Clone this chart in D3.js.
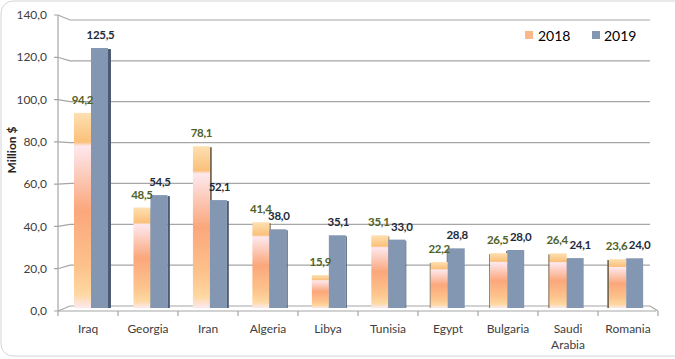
<!DOCTYPE html>
<html><head><meta charset="utf-8">
<script src="https://cdn.jsdelivr.net/npm/d3@7/dist/d3.min.js"></script>
<style>html,body{margin:0;padding:0;background:#fff;}svg{display:block;font-family:Lato,"Open Sans",sans-serif;}</style>
</head><body><svg id="c" width="675" height="359"></svg>
<script>
const categories = ["Iraq","Georgia","Iran","Algeria","Libya","Tunisia","Egypt","Bulgaria","Saudi Arabia","Romania"];
const values2018 = [94.2,48.5,78.1,41.4,15.9,35.1,22.2,26.5,26.4,23.6];
const values2019 = [125.5,54.5,52.1,38.0,35.1,33.0,28.8,28.0,24.1,24.0];
const seriesNames = ["2018","2019"];
const yTicks = [0,20,40,60,80,100,120,140];

const svg = d3.select("#c");
const fmt = v => d3.format(".1f")(v).replace(".", ",");

// border
svg.append("rect").attr("x",1).attr("y",1).attr("width",690).attr("height",355).attr("rx",12)
  .attr("fill","#fff").attr("stroke","#d4d4d4");

const defs = svg.append("defs");
const g18 = defs.append("linearGradient").attr("id","g18").attr("x1",0).attr("y1",0).attr("x2",0).attr("y2",1);
[[0,"#fde0b2"],[0.15,"#fbc07a"],[0.17,"#fde8ee"],[0.5,"#fba77b"],[0.8,"#fdc48d"],[0.93,"#fed8a2"],[1,"#fde9ef"]]
  .forEach(([o,c])=>g18.append("stop").attr("offset",o).attr("stop-color",c));

const x = d3.scaleBand().domain(categories).range([58,658]);
const yFront = d3.scaleLinear().domain([0,140]).range([311,15]);
const yBack = d3.scaleLinear().domain([0,140]).range([306,20]);
const yBar = d3.scaleLinear().domain([0,140]).range([308,18]);

const grid = svg.append("g").attr("stroke","#a6a6a6").attr("fill","none").attr("stroke-width",1.2);
yTicks.forEach(t=>{
  if(t===0) return;
  grid.append("path").attr("d",`M54,${yFront(t)}L58,${yFront(t)}L70,${yBack(t)}L650,${yBack(t)}`);
});
// floor
grid.append("path").attr("d",`M54,${yFront(0)}L656,${yFront(0)}`);
grid.append("path").attr("d",`M58,${yFront(0)}L70,${yBack(0)}L650,${yBack(0)}L658,${yFront(0)}`);
// vertical axis
grid.append("path").attr("d",`M58,${yFront(140)}L58,${yFront(0)}`);
// category ticks
categories.forEach((c,i)=>{
  grid.append("path").attr("d",`M${x(c)},${yFront(0)}L${x(c)},${yFront(0)+5}`);
});
grid.append("path").attr("d",`M658,${yFront(0)}L658,${yFront(0)+5}`);

// y tick labels
svg.append("g").selectAll("text").data(yTicks).join("text")
  .attr("x",47).attr("y",d=>yFront(d)).attr("dy","0.35em").attr("text-anchor","end")
  .attr("font-size",12).attr("fill","#404040").text(d=>fmt(d));

// axis title
svg.append("text").attr("transform","translate(16,150) rotate(-90)").attr("text-anchor","middle")
  .attr("font-size",12).attr("font-weight","bold").attr("fill","#262626").text("Million $");

// x labels
const xl = svg.append("g");
categories.forEach(c=>{
  const words = c.split(" ");
  const t = xl.append("text").attr("x",x(c)+x.bandwidth()/2).attr("y",333).attr("text-anchor","middle")
    .attr("font-size",12).attr("fill","#404040");
  words.forEach((w,i)=>t.append("tspan").attr("x",x(c)+x.bandwidth()/2).attr("dy",i?16:0).text(w));
});

// bars
const bw = 17, vp = 420;
const bars = svg.append("g");
const labels = svg.append("g").attr("font-size",11.5).attr("font-weight","bold").attr("letter-spacing",-0.3);
categories.forEach((c,i)=>{
  const cx = x(c)+x.bandwidth()/2;
  const s = (vp-cx)*0.009;
  const sw = Math.max(1,Math.abs(s));
  const y0 = yBar(0);
  const draw18 = ()=>{
    const x0 = cx-bw+s, top = yBar(values2018[i]);
    const sx = s>0 ? x0+bw : x0-sw;
    bars.append("rect").attr("x",sx).attr("y",top+1).attr("width",sw).attr("height",y0-top-1).attr("fill","#7d6a52");
    bars.append("rect").attr("x",x0).attr("y",top).attr("width",bw).attr("height",y0-top).attr("fill","url(#g18)");
  };
  const draw19 = ()=>{
    const x0 = cx+s, top = yBar(values2019[i]);
    const sx = s>0 ? x0+bw : x0-sw;
    bars.append("rect").attr("x",sx).attr("y",top+1).attr("width",sw).attr("height",y0-top-1).attr("fill","#4c5b72");
    bars.append("rect").attr("x",x0).attr("y",top).attr("width",bw).attr("height",y0-top).attr("fill","#8396b2");
  };
  if(s>0){draw18();draw19();}else{draw19();draw18();}
  const close = Math.abs(values2018[i]-values2019[i]) < 3;
  labels.append("text").attr("x",cx-bw/2+s-(close?1:0)).attr("y",yBar(values2018[i])-9).attr("text-anchor","middle")
    .attr("fill","#4f6228").text(fmt(values2018[i]));
  labels.append("text").attr("x",cx+bw/2+s+(close?5:1)).attr("y",yBar(values2019[i])-9).attr("text-anchor","middle")
    .attr("fill","#1f2b3a").text(fmt(values2019[i]));
});

// legend
const lg = svg.append("g").attr("font-size",14).attr("fill","#000");
const lcol = ["#fbb98b","#8396b2"];
[[525,538],[592,604]].forEach(([sx,tx],k)=>{
  lg.append("rect").attr("x",sx).attr("y",31).attr("width",8).attr("height",8).attr("fill",lcol[k]);
  lg.append("text").attr("x",tx).attr("y",40.5).text(seriesNames[k]);
});
</script></body></html>
